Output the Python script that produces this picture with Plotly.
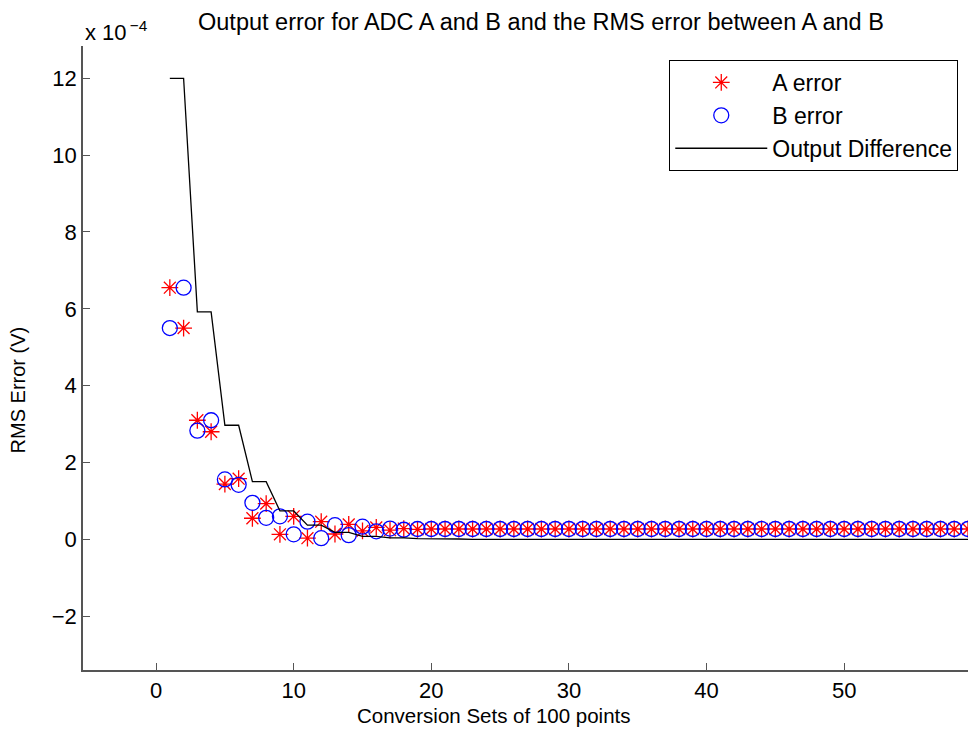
import plotly.graph_objects as go

# Conversion set index (x axis)
sets = list(range(1, 60))

# RMS error of ADC A (units of 1e-4 V)
a_error = [6.55, 5.50, 3.10, 2.80, 1.44, 1.58, 0.55, 0.93, 0.13, 0.60,
           0.03, 0.46, 0.14, 0.39, 0.22, 0.31, 0.24, 0.28, 0.26, 0.27,
           0.27, 0.27, 0.27, 0.27, 0.27, 0.27, 0.27, 0.27, 0.27, 0.27,
           0.27, 0.27, 0.27, 0.27, 0.27, 0.27, 0.27, 0.27, 0.27, 0.27,
           0.27, 0.27, 0.27, 0.27, 0.27, 0.27, 0.27, 0.27, 0.27, 0.27,
           0.27, 0.27, 0.27, 0.27, 0.27, 0.27, 0.27, 0.27, 0.27]

# RMS error of ADC B (units of 1e-4 V)
b_error = [5.50, 6.55, 2.83, 3.10, 1.56, 1.42, 0.95, 0.56, 0.60, 0.13,
           0.46, 0.03, 0.37, 0.11, 0.33, 0.21, 0.28, 0.25, 0.27, 0.27,
           0.27, 0.27, 0.27, 0.27, 0.27, 0.27, 0.27, 0.27, 0.27, 0.27,
           0.27, 0.27, 0.27, 0.27, 0.27, 0.27, 0.27, 0.27, 0.27, 0.27,
           0.27, 0.27, 0.27, 0.27, 0.27, 0.27, 0.27, 0.27, 0.27, 0.27,
           0.27, 0.27, 0.27, 0.27, 0.27, 0.27, 0.27, 0.27, 0.27]

# RMS output difference between A and B (units of 1e-4 V)
out_diff = [12.0, 12.0, 5.92, 5.92, 2.97, 2.97, 1.50, 1.50, 0.74, 0.74,
            0.37, 0.37, 0.18, 0.18, 0.08, 0.08, 0.04, 0.04, 0.02, 0.02,
            0.01, 0.01, 0.0, 0.0, 0.0, 0.0, 0.0, 0.0, 0.0, 0.0,
            0.0, 0.0, 0.0, 0.0, 0.0, 0.0, 0.0, 0.0, 0.0, 0.0,
            0.0, 0.0, 0.0, 0.0, 0.0, 0.0, 0.0, 0.0, 0.0, 0.0,
            0.0, 0.0, 0.0, 0.0, 0.0, 0.0, 0.0, 0.0, 0.0]

x_ticks = [0, 10, 20, 30, 40, 50]
y_ticks = [-2, 0, 2, 4, 6, 8, 10, 12]

FONT = "Liberation Sans, Arial, Helvetica, sans-serif"

fig = go.Figure()
fig.add_trace(go.Scatter(
    x=sets, y=a_error, mode="markers", name="A error",
    marker=dict(symbol="asterisk-open", size=14, color="#FF0000",
                line=dict(color="#FF0000", width=1.3)),
))
fig.add_trace(go.Scatter(
    x=sets, y=b_error, mode="markers", name="B error",
    marker=dict(symbol="circle-open", size=15, color="#0000FF",
                line=dict(color="#0000FF", width=1.3)),
))
fig.add_trace(go.Scatter(
    x=sets, y=out_diff, mode="lines", name="Output Difference",
    line=dict(color="#000000", width=1.3),
))

axis_common = dict(
    showgrid=False, zeroline=False, showline=True, linecolor="#555555",
    linewidth=1.5, ticks="inside", ticklen=7, tickcolor="#555555",
    tickwidth=1, mirror=False,
    tickfont=dict(family=FONT, size=22, color="#000000"),
)

fig.update_layout(
    width=971, height=734,
    margin=dict(l=83, r=3, t=46, b=64),
    paper_bgcolor="white", plot_bgcolor="white",
    font=dict(family=FONT, size=20, color="#000000"),
    xaxis=dict(range=[-5.31, 59.0], tickmode="array", tickvals=x_ticks,
               **axis_common),
    yaxis=dict(range=[-3.4, 12.84], tickmode="array", tickvals=y_ticks,
               **axis_common),
    showlegend=True,
    legend=dict(
        x=0.989, y=0.9776, xanchor="right", yanchor="top",
        bgcolor="white", bordercolor="#000000", borderwidth=1,
        font=dict(family=FONT, size=23, color="#000000"),
        itemwidth=92,
    ),
    annotations=[
        dict(text="Output error for ADC A and B and the RMS error between A and B",
             xref="paper", yref="paper", x=0.517, y=1.0385,
             xanchor="center", yanchor="middle", showarrow=False,
             font=dict(family=FONT, size=23.5)),
        dict(text="x 10<sup>\u2009\u22124</sup>",
             xref="paper", yref="paper", x=0.0, y=1.024,
             xanchor="left", yanchor="middle", showarrow=False,
             font=dict(family=FONT, size=22)),
        dict(text="RMS Error (V)", textangle=-90,
             xref="paper", yref="paper", x=-0.0731, y=0.4485,
             xanchor="center", yanchor="middle", showarrow=False,
             font=dict(family=FONT, size=20)),
        dict(text="Conversion Sets of 100 points",
             xref="paper", yref="paper", x=0.4647, y=-0.0726,
             xanchor="center", yanchor="middle", showarrow=False,
             font=dict(family=FONT, size=20.5)),
    ],
)

fig.write_html("out.html",
               config={"displayModeBar": False},
               post_script="document.body.style.margin='0';document.body.style.overflow='hidden';")
